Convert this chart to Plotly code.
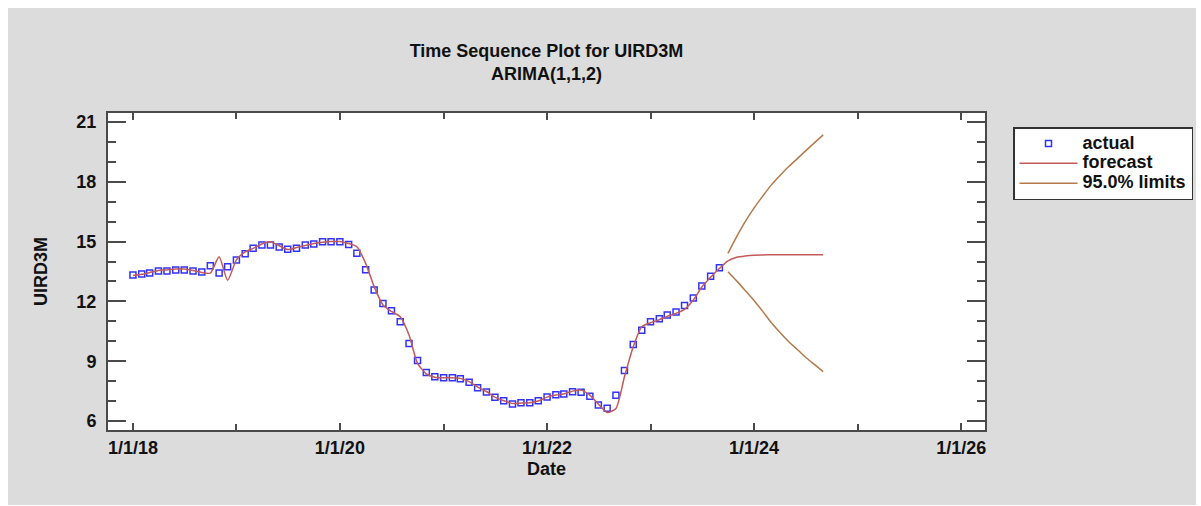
import pandas as pd
import plotly.graph_objects as go

# ---------------- data ----------------
actual_start = "2018-01-01"
actual_values = [
    13.32, 13.37, 13.42, 13.52, 13.52, 13.57, 13.57, 13.52, 13.47, 13.79, 13.42, 13.74,
    14.08, 14.39, 14.66, 14.83, 14.83, 14.73, 14.61, 14.66, 14.83, 14.88, 14.99, 14.99,
    14.99, 14.86, 14.41, 13.59, 12.57, 11.90, 11.53, 10.98, 9.89, 9.04, 8.44, 8.22,
    8.17, 8.17, 8.12, 7.94, 7.67, 7.45, 7.19, 7.02, 6.85, 6.92, 6.92, 7.02,
    7.20, 7.32, 7.35, 7.47, 7.44, 7.24, 6.80, 6.64, 7.29, 8.54, 9.84, 10.55,
    10.98, 11.13, 11.32, 11.47, 11.80, 12.17, 12.77, 13.26, 13.69,
]
forecast_values = [
    13.30, 13.36, 13.45, 13.55, 13.58, 13.62, 13.62, 13.55, 13.45, 13.42, 14.24, 13.06,
    14.08, 14.49, 14.66, 14.88, 14.99, 14.79, 14.60, 14.70, 14.80, 14.90, 14.97, 15.00,
    15.00, 14.90, 14.74, 13.91, 12.74, 11.82, 11.50, 11.23, 10.31, 8.89, 8.37, 8.20,
    8.17, 8.17, 8.14, 7.98, 7.70, 7.48, 7.20, 7.02, 6.88, 6.90, 6.92, 7.00,
    7.20, 7.30, 7.36, 7.50, 7.55, 7.30, 6.85, 6.43, 6.63, 8.22, 9.73, 10.73,
    10.93, 11.08, 11.25, 11.40, 11.60, 12.07, 12.72, 13.21, 13.65, 14.03, 14.21, 14.28,
    14.32, 14.33, 14.34, 14.34, 14.34, 14.34, 14.34, 14.34, 14.34,
]
limits_start = "2023-10-01"
upper_limits = [14.41, 15.25, 16.00, 16.68, 17.28, 17.82, 18.30, 18.74, 19.15, 19.55, 19.95, 20.35]
lower_limits = [13.49, 13.03, 12.55, 12.05, 11.50, 10.95, 10.45, 10.00, 9.60, 9.20, 8.84, 8.48]

x_tickvals = ["2018-01-01", "2020-01-01", "2022-01-01", "2024-01-01", "2026-01-01"]
y_tickvals = [6, 9, 12, 15, 18, 21]

actual_dates = pd.date_range(actual_start, periods=len(actual_values), freq="MS")
forecast_dates = pd.date_range(actual_start, periods=len(forecast_values), freq="MS")
limit_dates = pd.date_range(limits_start, periods=len(upper_limits), freq="MS")

# ---------------- figure ----------------
FONT = "Liberation Sans, Arial, sans-serif"
BLUE = "#3232f8"
RED = "#c25a5a"
BROWN = "#b27a4c"
AXIS = "#4a4a4a"
TXT = "#111111"


def leg(name):
    return f'<span style="font-size:18px">{name}</span>'


fig = go.Figure()
fig.add_trace(go.Scatter(
    x=actual_dates, y=actual_values, mode="markers", name=leg("actual"),
    marker=dict(symbol="square-open", size=6, color=BLUE, line=dict(width=1.5, color=BLUE)),
))
fig.add_trace(go.Scatter(
    x=forecast_dates, y=forecast_values, mode="lines", name=leg("forecast"),
    line=dict(color=RED, width=1.5, shape="spline", smoothing=0.6),
))
lim_x = list(limit_dates) + [None] + list(limit_dates)
lim_y = upper_limits + [None] + lower_limits
fig.add_trace(go.Scatter(
    x=lim_x, y=lim_y, mode="lines", name=leg("95.0% limits"), connectgaps=False,
    line=dict(color=BROWN, width=1.5, shape="spline", smoothing=0.6),
))

W, H = 1201, 506
L, R, T, B = 108, 985, 113, 430
pw, ph = R - L, B - T


def px(xp):
    return (xp - L) / pw


def py(yp):
    return (B - yp) / ph


fig.update_layout(
    width=W, height=H,
    margin=dict(l=L, r=W - R, t=T, b=H - B, pad=0, autoexpand=False),
    paper_bgcolor="white",
    plot_bgcolor="white",
    font=dict(family=FONT, size=17, color=TXT, weight="bold"),
    title=dict(
        text="Time Sequence Plot for UIRD3M<br>ARIMA(1,1,2)",
        x=0.5, xref="paper", xanchor="center",
        y=1 - 57 / H, yref="container", yanchor="middle",
        font=dict(family=FONT, size=18, color=TXT, weight="bold"),
    ),
    showlegend=True,
    legend=dict(
        x=px(1013), y=py(127), xanchor="left", yanchor="top",
        bgcolor="white", bordercolor="#333333", borderwidth=1.5,
        font=dict(family=FONT, size=13, color=TXT, weight="bold"),
        tracegroupgap=0, itemwidth=58,
    ),
    shapes=[
        dict(type="rect", xref="paper", yref="paper", layer="below",
             x0=px(8), x1=px(1196), y0=py(505), y1=py(8),
             fillcolor="#dcdcdc", line=dict(width=0)),
        dict(type="rect", xref="paper", yref="paper", layer="below",
             x0=0, x1=1, y0=0, y1=1,
             fillcolor="white", line=dict(width=0)),
    ],
)

fig.update_xaxes(
    type="date",
    range=["2017-10-05", "2026-03-26"],
    tickmode="array", tickvals=x_tickvals,
    tickformat="%-m/%-d/%y",
    ticks="inside", ticklen=7, tickwidth=2, tickcolor=AXIS,
    minor=dict(dtick="M12", tick0="2019-01-01", ticks="inside", ticklen=6, tickwidth=2, tickcolor=AXIS),
    showline=True, linecolor=AXIS, linewidth=2, mirror="ticks",
    showgrid=False, zeroline=False, automargin=False,
    tickfont=dict(family=FONT, size=18, color=TXT, weight="bold"),
    title=dict(text="Date", standoff=6, font=dict(family=FONT, size=18, color=TXT, weight="bold")),
)
fig.update_yaxes(
    range=[5.55, 21.45],
    tickmode="array", tickvals=y_tickvals,
    ticks="inside", ticklen=18, tickwidth=2, tickcolor=AXIS,
    minor=dict(dtick=1, tick0=0, ticks="inside", ticklen=8, tickwidth=2, tickcolor=AXIS),
    showline=True, linecolor=AXIS, linewidth=2, mirror="ticks",
    showgrid=False, zeroline=False, automargin=False,
    ticklabelstandoff=6,
    tickfont=dict(family=FONT, size=18, color=TXT, weight="bold"),
    title=dict(text="UIRD3M", standoff=24, font=dict(family=FONT, size=18, color=TXT, weight="bold")),
)

fig.write_html("out.html")
